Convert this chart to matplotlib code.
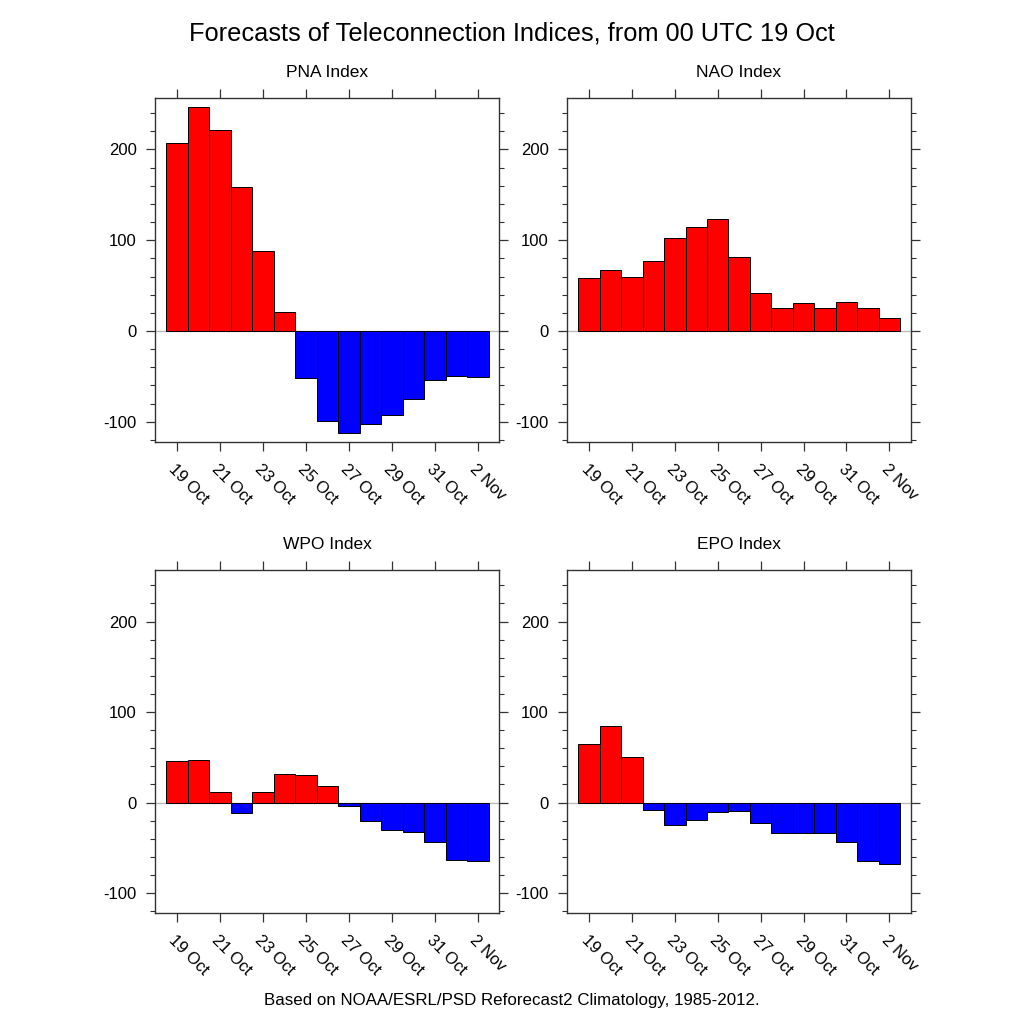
import matplotlib
matplotlib.use("Agg")
import matplotlib.pyplot as plt
from matplotlib.ticker import MultipleLocator, FixedLocator

plt.rcParams['font.family'] = ['Liberation Sans', 'DejaVu Sans']
plt.rcParams['axes.unicode_minus'] = False

dates = ["19 Oct", "20 Oct", "21 Oct", "22 Oct", "23 Oct", "24 Oct", "25 Oct",
         "26 Oct", "27 Oct", "28 Oct", "29 Oct", "30 Oct", "31 Oct", "1 Nov", "2 Nov"]

pna = [207, 247, 221, 159, 88, 21, -52, -99, -112, -102, -93, -75, -54, -50, -51]
nao = [58, 67, 60, 77, 102, 114, 123, 82, 42, 25, 31, 25, 32, 25, 14]
wpo = [46, 47, 12, -12, 12, 32, 30, 18, -4, -20, -30, -33, -44, -63, -64]
epo = [65, 85, 50, -8, -25, -19, -10, -9, -23, -34, -34, -34, -44, -65, -68]

titles = ["PNA Index", "NAO Index", "WPO Index", "EPO Index"]
series = [pna, nao, wpo, epo]

fig = plt.figure(figsize=(10.24, 10.24), dpi=100)
W = 1024.0
boxes = [(155, 97.7, 499.3, 441.7), (567.3, 97.7, 910.7, 441.7),
         (155, 570, 499.3, 913), (567.3, 570, 910.7, 913)]

spine_c = '#333333'
for (x0, y0, x1, y1), vals, title in zip(boxes, series, titles):
    ax = fig.add_axes([x0 / W, 1 - y1 / W, (x1 - x0) / W, (y1 - y0) / W])
    xs = list(range(len(vals)))
    cols = ['#ff0000' if v >= 0 else '#0000ff' for v in vals]
    ax.axhline(0, color='#bbbbbb', lw=1.0, zorder=1)
    ax.bar(xs, vals, width=1.0, color=cols, edgecolor='black', linewidth=0.7, zorder=2)
    ax.set_xlim(-1.02, 15.0)
    ax.set_ylim(-122, 257)
    ax.xaxis.set_major_locator(FixedLocator(xs[::2]))
    ax.set_xticklabels(dates[::2], rotation=-45, ha='left', va='top',
                       rotation_mode='anchor', fontsize=12)
    ax.yaxis.set_major_locator(MultipleLocator(100))
    ax.yaxis.set_minor_locator(MultipleLocator(20))
    ax.tick_params(axis='both', which='major', direction='out', length=6.3, width=0.9,
                   color=spine_c, top=True, right=True, labelsize=12, pad=7)
    ax.tick_params(axis='y', which='minor', direction='out', length=3.4, width=0.8,
                   color=spine_c, right=True, left=True)
    ax.tick_params(axis='x', which='major', pad=8)
    for s in ax.spines.values():
        s.set_color(spine_c)
        s.set_linewidth(1.0)
    ax.set_title(title, fontsize=12.5, pad=15)

fig.text(0.5, 1 - 33 / W, "Forecasts of Teleconnection Indices, from 00 UTC 19 Oct",
         ha='center', va='center', fontsize=18.3)
fig.text(0.5, 1 - 1001 / W, "Based on NOAA/ESRL/PSD Reforecast2 Climatology, 1985-2012.",
         ha='center', va='center', fontsize=12.2)

fig.savefig("out.png", dpi=100)
